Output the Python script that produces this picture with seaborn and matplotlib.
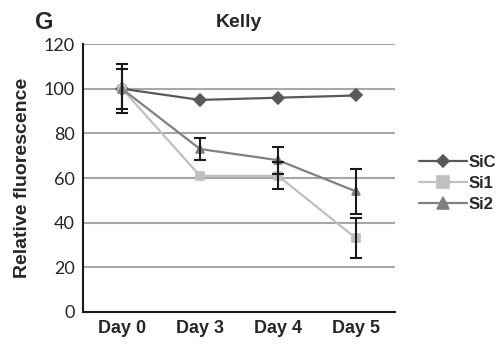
import numpy as np
import pandas as pd
import matplotlib
matplotlib.use("Agg")
import matplotlib.pyplot as plt
import seaborn as sns

days = ["Day 0", "Day 3", "Day 4", "Day 5"]
series = ["SiC", "Si1", "Si2"]
sic = [100, 95, 96, 97]
si1 = [100, 61, 61, 33]
si2 = [100, 73, 68, 54]
sic_err = [11, 0, 0, 0]
si1_err = [0, 0, 6, 9]
si2_err = [9, 5, 6, 10]

colors = ["#595959", "#c0c0c0", "#808080"]

df = pd.DataFrame({
    "day": days * 3,
    "value": sic + si1 + si2,
    "series": [s for s in series for _ in days],
})

sns.set_style("white")
plt.rcParams["font.family"] = ["Liberation Sans", "DejaVu Sans"]

fig = plt.figure(figsize=(5, 3.45), dpi=100)
ax = fig.add_axes([0.166, 0.096, 0.624, 0.776])

for y in range(20, 121, 20):
    ax.axhline(y, color="#a6a6a6", lw=1.5, zorder=0)

sns.pointplot(data=df, x="day", y="value", hue="series", order=days,
              hue_order=series, palette=colors, markers=["D", "s", "^"],
              linestyles="-", errorbar=None, dodge=False, ax=ax,
              markersize=6, linewidth=1.6)

# adjust marker sizes a bit per series
for line, ms in zip(ax.lines[-3:], [6, 8, 8]):
    line.set_markersize(ms)

xs = np.arange(len(days))
for vals, errs in [(sic, sic_err), (si1, si1_err), (si2, si2_err)]:
    e = np.array(errs)
    m = e > 0
    ax.errorbar(xs[m], np.array(vals)[m], yerr=e[m], fmt="none", ecolor="#1a1a1a",
                elinewidth=1.5, capsize=4, capthick=1.5, zorder=5)

ax.set_xlim(-0.5, 3.5)
ax.set_ylim(0, 120)
ax.set_yticks(range(0, 121, 20))
ax.set_xlabel("")
ax.set_ylabel("Relative fluorescence", fontsize=14, fontweight="bold", labelpad=9)
ax.set_title("Kelly", fontsize=14, fontweight="bold", pad=12)
for lab in ax.get_xticklabels():
    lab.set_fontweight("bold")
    lab.set_fontsize(13)
for lab in ax.get_yticklabels():
    lab.set_fontsize(13)
    lab.set_family(["Lato", "DejaVu Sans"])
ax.tick_params(axis="both", length=0, pad=6)

for s in ["top", "right"]:
    ax.spines[s].set_visible(False)
for s in ["left", "bottom"]:
    ax.spines[s].set_color("#1a1a1a")
    ax.spines[s].set_linewidth(1.5)

handles, labels = ax.get_legend_handles_labels()
leg = ax.legend(handles, labels, loc="center left", bbox_to_anchor=(1.05, 0.48),
                frameon=False, prop={"weight": "bold", "size": 12},
                handlelength=2.9, labelspacing=0.35, handletextpad=0.1,
                borderpad=0)

fig.text(0.07, 0.935, "G", fontsize=17, fontweight="bold", ha="left", va="center")

fig.savefig("out.png", dpi=100)
